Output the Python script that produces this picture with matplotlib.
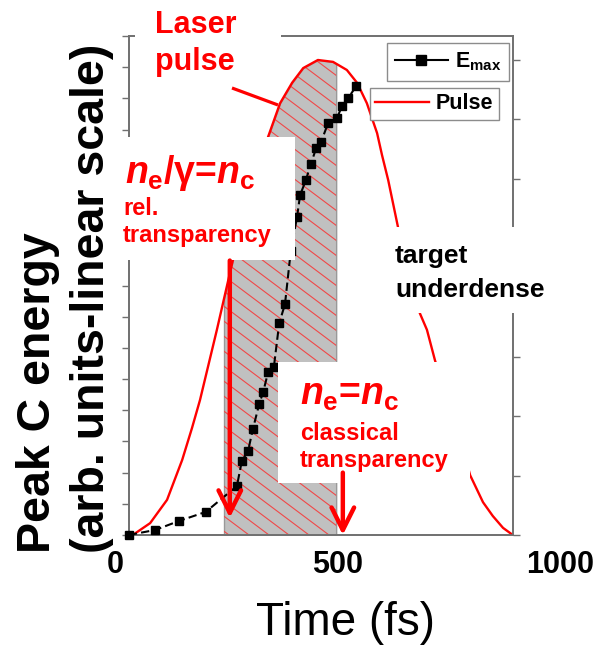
import numpy as np
import matplotlib
matplotlib.use("Agg")
import matplotlib.pyplot as plt
from matplotlib.patches import Rectangle, FancyArrowPatch, ArrowStyle
from matplotlib.lines import Line2D
from matplotlib.collections import LineCollection

plt.rcParams["font.family"] = ["Liberation Sans", "DejaVu Sans"]
plt.rcParams["mathtext.fontset"] = "custom"
plt.rcParams["mathtext.rm"] = "Liberation Sans:bold"
plt.rcParams["mathtext.it"] = "Liberation Sans:italic:bold"
plt.rcParams["mathtext.bf"] = "Liberation Sans:bold"

# ---- data -------------------------------------------------------------
# peak carbon ion energy (arb. units) versus time (fs)
emax_time = [31, 90, 144, 204, 274, 285, 299, 310, 324, 333, 344, 357, 369,
             382, 395, 409, 416, 429, 440, 452, 463, 479, 499, 510, 524, 542]
emax_value = [0.0, 0.16, 0.45, 0.74, 1.57, 2.37, 2.69, 3.40, 4.20, 4.58, 5.22,
              5.38, 6.79, 7.40, 9.10, 10.19, 10.90, 11.38, 11.89, 12.40, 12.60,
              13.21, 13.37, 13.75, 14.01, 14.39]

# normalised laser pulse intensity versus time (fs)
pulse_time = [40, 79, 117, 151, 173, 191, 229, 265, 303, 344, 371, 398, 423,
              456, 490, 521, 544, 566, 589, 600, 614, 636, 663, 685, 701, 719,
              753, 780, 798, 827, 849, 872, 894]
pulse_value = [0.0, 0.025, 0.074, 0.158, 0.225, 0.284, 0.432, 0.579, 0.716,
               0.838, 0.909, 0.952, 0.983, 1.000, 0.996, 0.979, 0.952, 0.909,
               0.846, 0.800, 0.747, 0.648, 0.558, 0.467, 0.432, 0.368, 0.263,
               0.189, 0.126, 0.069, 0.040, 0.015, 0.0]

# time window of relativistic transparency (shaded) and marker times
shade_start, shade_end = 245, 497
rel_transparency_time = 258
classical_transparency_time = 512

time_ticks = [0, 500, 1000]
time_limits = (31.5, 894.4)
energy_limits = (0, 16)
pulse_limits = (0, 1.0505)

# ---- figure -----------------------------------------------------------
W, H = 596, 649
fig = plt.figure(figsize=(W / 100, H / 100), dpi=100)


def fig_rect(x0, y0, x1, y1):
    return [x0 / W, 1 - y1 / H, (x1 - x0) / W, (y1 - y0) / H]


ax_e = fig.add_axes(fig_rect(129, 36, 513, 535))
ax_p = ax_e.twinx()
ax_p.set_zorder(ax_e.get_zorder() - 1)
ax_e.patch.set_visible(False)

spine_color = "#707070"
for a in (ax_e, ax_p):
    for s in a.spines.values():
        s.set_color(spine_color)
        s.set_linewidth(1.2)

ax_e.set_xlim(*time_limits)
ax_e.set_ylim(*energy_limits)
ax_e.set_yticks(np.arange(energy_limits[0], energy_limits[1] + 1, 1))
ax_e.tick_params(axis="y", direction="out", length=5, width=1,
                 color=spine_color, labelleft=False)
ax_e.tick_params(axis="x", bottom=False, labelbottom=False)

ax_p.set_ylim(*pulse_limits)
ax_p.set_yticks(np.arange(0, 1.0001, 0.125))
ax_p.tick_params(axis="y", direction="out", length=5, width=1,
                 color=spine_color, labelright=False)

# shaded transparency window under the pulse
t_arr = np.asarray(pulse_time, float)
p_arr = np.asarray(pulse_value, float)
inside = (t_arr > shade_start) & (t_arr < shade_end)
ts = np.concatenate([[shade_start], t_arr[inside], [shade_end]])
ps = np.interp(ts, t_arr, p_arr)
fill = ax_p.fill_between(ts, 0, ps, facecolor="#c0c0c0", edgecolor="#999999",
                         linewidth=1.0, zorder=1)

# diagonal red hatching clipped to the shaded area
pos = ax_p.get_position()
w_px, h_px = pos.width * W, pos.height * H
slope = -0.75 * w_px / h_px
step = 15.0 / h_px
segs = [[(0, c), (1, c + slope)] for c in np.arange(0, 1 - slope + step, step)]
hatch = LineCollection(segs, colors="#f04848", linewidths=0.8,
                       transform=ax_p.transAxes, zorder=1.5)
hatch.set_clip_path(fill.get_paths()[0], ax_p.transData)
ax_p.add_collection(hatch, autolim=False)

ax_p.plot(pulse_time, pulse_value, color="#ff0000", lw=1.7, zorder=3,
          solid_joinstyle="round")
ax_p.set_xlim(*time_limits)
ax_p.set_ylim(*pulse_limits)

emax_line, = ax_e.plot(emax_time, emax_value, color="black", lw=1.5,
                       ls=(0, (4, 2)), marker="s", ms=5.5, mfc="black",
                       mec="black", clip_on=False, zorder=4)
emax_key = Line2D([], [], color="black", lw=1.5, marker="s", ms=7,
                  mfc="black", mec="black")
pulse_key = Line2D([], [], color="#ff0000", lw=1.7)

leg1 = ax_e.legend([emax_key], [r"$\mathrm{E}_{\mathrm{max}}$"],
                   loc="upper left", bbox_to_anchor=(387 / W, 1 - 43 / H),
                   bbox_transform=fig.transFigure, borderaxespad=0,
                   fancybox=False, edgecolor="#8c8c8c", framealpha=1,
                   fontsize=15.5, handlelength=2.5, handletextpad=0.3,
                   borderpad=0.35)
leg1.get_frame().set_linewidth(1.0)
ax_e.add_artist(leg1)
leg2 = ax_e.legend([pulse_key], ["Pulse"], loc="upper left",
                   bbox_to_anchor=(370 / W, 1 - 88 / H),
                   bbox_transform=fig.transFigure, borderaxespad=0,
                   fancybox=False, edgecolor="#8c8c8c", framealpha=1,
                   prop={"size": 15.5, "weight": "bold"}, handlelength=2.5,
                   handletextpad=0.3, borderpad=0.25)
leg2.get_frame().set_linewidth(1.0)

# time tick labels
for tv in time_ticks:
    ax_e.text(tv, -38 / 499, str(tv), transform=ax_e.get_xaxis_transform(),
              ha="center", va="baseline", fontsize=22, fontweight="bold",
              clip_on=False)

# ---- annotation layer (pixel coordinates) -----------------------------
ov = fig.add_axes([0, 0, 1, 1], zorder=10)
ov.set_xlim(0, W)
ov.set_ylim(H, 0)
ov.axis("off")
ov.patch.set_visible(False)

for x0, y0, x1, y1 in [(135, 0, 281, 90), (115, 137, 295, 260),
                       (390, 227, 560, 313), (278, 362, 470, 483)]:
    ov.add_patch(Rectangle((x0, y0), x1 - x0, y1 - y0, facecolor="white",
                           edgecolor="none", zorder=1))

red = "#ff0000"
ov.text(155, 33, "Laser", color=red, fontsize=22, fontweight="bold",
        va="baseline", zorder=3)
ov.text(155, 70, "pulse", color=red, fontsize=22, fontweight="bold",
        va="baseline", zorder=3)
ov.plot([232, 278], [88, 105], color=red, lw=2.3, zorder=3,
        solid_capstyle="butt")

ov.text(125, 183, r"$n_\mathrm{e}$/γ=$n_\mathrm{c}$", color=red, fontsize=27,
        fontweight="bold", va="baseline", zorder=3)
ov.text(123, 215, "rel.", color=red, fontsize=17, fontweight="bold",
        va="baseline", zorder=3)
ov.text(123, 242, "transparency", color=red, fontsize=17, fontweight="bold",
        va="baseline", zorder=3)

ov.text(300, 405, r"$n_\mathrm{e}$=$n_\mathrm{c}$", color=red, fontsize=27,
        fontweight="bold", va="baseline", zorder=3)
ov.text(300, 440, "classical", color=red, fontsize=17, fontweight="bold",
        va="baseline", zorder=3)
ov.text(300, 467, "transparency", color=red, fontsize=17, fontweight="bold",
        va="baseline", zorder=3)

ov.text(395, 263, "target", color="black", fontsize=19, fontweight="bold",
        va="baseline", zorder=3)
ov.text(395, 297, "underdense", color="black", fontsize=19, fontweight="bold",
        va="baseline", zorder=3)

arrow_style = ArrowStyle("->", head_length=0.9, head_width=0.45)
for t_mark, y_from, y_to in [(rel_transparency_time, 8.8, 0.55),
                             (classical_transparency_time, 2.0, 0.0)]:
    ov.add_patch(FancyArrowPatch((t_mark, y_from), (t_mark, y_to),
                                 transform=ax_e.transData,
                                 arrowstyle=arrow_style, mutation_scale=18,
                                 color=red, lw=3.2, shrinkA=0, shrinkB=0,
                                 zorder=4))

ov.text(345, 635, "Time (fs)", fontsize=33, ha="center", va="baseline",
        zorder=3)
ov.text(50, 553, "Peak C energy", fontsize=33.5, fontweight="bold",
        rotation=90, rotation_mode="anchor", ha="left", va="baseline",
        zorder=3)
ov.text(104, 553, "(arb. units-linear scale)", fontsize=33.5,
        fontweight="bold", rotation=90, rotation_mode="anchor", ha="left",
        va="baseline", zorder=3)

fig.savefig("out.png", dpi=100)
